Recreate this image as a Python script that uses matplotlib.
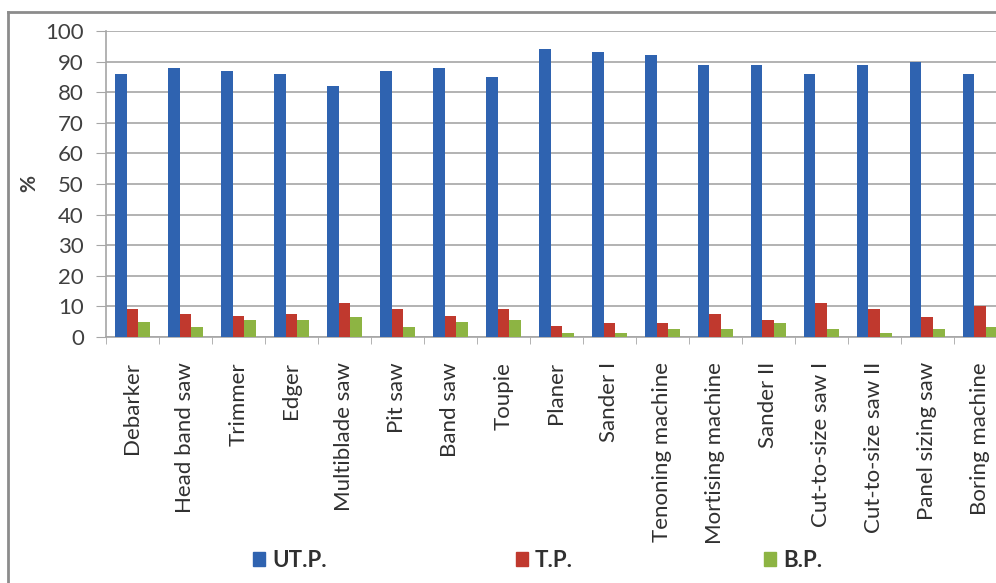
import numpy as np
import matplotlib
matplotlib.use("Agg")
import matplotlib.pyplot as plt
from matplotlib.lines import Line2D
from matplotlib.patches import Patch

plt.rcParams['font.family'] = ['Lato', 'DejaVu Sans']

machines = ["Debarker", "Head band saw", "Trimmer", "Edger", "Multiblade saw",
            "Pit saw", "Band saw", "Toupie", "Planer", "Sander I",
            "Tenoning machine", "Mortising machine", "Sander II",
            "Cut-to-size saw I", "Cut-to-size saw II", "Panel sizing saw",
            "Boring machine"]
utp = [86, 88, 87, 86, 82, 87, 88, 85, 94, 93, 92, 89, 89, 86, 89, 90, 86]
tp = [9.3, 7.6, 6.8, 7.6, 11.1, 9.3, 6.8, 9.3, 3.6, 4.7, 4.7, 7.4, 5.5, 11.1, 9.3, 6.5, 10]
bp = [4.9, 3.3, 5.7, 5.7, 6.5, 3.3, 4.9, 5.5, 1.4, 1.4, 2.5, 2.5, 4.7, 2.5, 1.4, 2.5, 3.3]

series = [("UT.P.", utp, "#2F63B0"), ("T.P.", tp, "#C0392E"), ("B.P.", bp, "#8DB443")]

fig = plt.figure(figsize=(9.96, 5.83), dpi=100)
ax = fig.add_axes([0.1064, 0.422, 0.9046, 0.5248])

x = np.arange(len(machines))
w = 0.225
for i, (name, vals, col) in enumerate(series):
    ax.bar(x + (i - 1) * w, vals, w, color=col, label=name, zorder=3)

ax.set_xlim(-0.5, len(machines) - 0.5)
ax.set_ylim(0, 100)
ax.set_yticks(range(0, 101, 10))
ax.yaxis.grid(True, color="#a6a6a6", lw=1.2, zorder=0)
ax.tick_params(axis="y", length=7, color="#a6a6a6", labelsize=16, labelcolor="#404040", pad=9)
ax.set_xticks(x)
ax.set_xticklabels(machines, rotation=90, fontsize=16, color="#303030")
ax.tick_params(axis="x", which="major", length=0, pad=18)
ax.set_xticks(np.arange(-0.5, len(machines), 1.0), minor=True)
ax.tick_params(axis="x", which="minor", length=5, color="#a6a6a6")
for s in ["top", "right"]:
    ax.spines[s].set_visible(False)
for s in ["left", "bottom"]:
    ax.spines[s].set_color("#a6a6a6")
    ax.spines[s].set_linewidth(1.2)
ax.set_ylabel("%", fontsize=15, color="#404040", fontweight="bold")
ax.yaxis.set_label_coords(-0.074, 0.5)

# outer chart frame
fig.add_artist(Line2D([0.008, 0.008], [0.0, 0.979], color="#8c8c8c", lw=2))
fig.add_artist(Line2D([0.008, 1.0], [0.979, 0.979], color="#8c8c8c", lw=2))

# legend entries spread along the bottom
for (name, vals, col), lx in zip(series, [0.234, 0.498, 0.747]):
    fig.legend(handles=[Patch(color=col, label=name)], loc="center left",
               bbox_to_anchor=(lx, 0.039), frameon=False, handlelength=0.55,
               handleheight=0.55, handletextpad=0.3,
               prop={"size": 16, "weight": "bold"}, labelcolor="#303030")

fig.savefig("out.png", dpi=100)
